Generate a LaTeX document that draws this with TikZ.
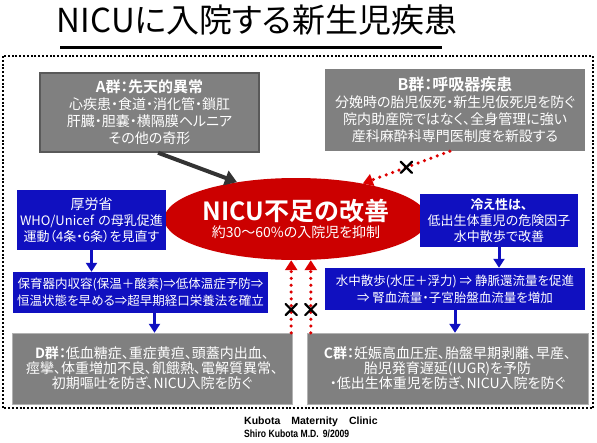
\documentclass[tikz,border=0pt]{standalone}
\usepackage{graphicx}
\usepackage{fontspec}
\setmainfont{Noto Sans CJK JP}[BoldFont={Noto Sans CJK JP Bold},RawFeature=+palt]
\newfontfamily\footfont{Liberation Sans}
\usetikzlibrary{positioning}
\usetikzlibrary{shapes.geometric,shapes.misc}
\usetikzlibrary{arrows.meta}
\definecolor{grpgray}{RGB}{128,128,128}
\definecolor{mhlwblue}{RGB}{16,16,192}
\definecolor{nicured}{RGB}{204,0,0}
\definecolor{dotred}{RGB}{221,0,0}
\definecolor{arrowgray}{RGB}{51,51,51}

\begin{document}
\begin{tikzpicture}[x=1pt, y=-1pt,
    grp/.style = {draw=gray!60, fill=grpgray, text=white, align=center, inner sep=2pt, font=\fontsize{14}{17}\selectfont},
    bluebox/.style = {fill=mhlwblue, text=white, align=center, inner sep=2pt, font=\fontsize{13}{16}\selectfont},
    bluearrow/.style = {mhlwblue, line width=3pt, -{Triangle[width=11pt,length=9pt]}},
    grayarrow/.style = {arrowgray, line width=4pt, -{Triangle[width=15pt,length=12pt]}},
    redarrow/.style = {dotred, line width=3.5pt, line cap=round, dash pattern=on 0pt off 6.8pt, -{Triangle[width=12pt,length=10pt]}},
    xmark/.style = {draw=black, cross out, line width=2.2pt, minimum size=9pt, inner sep=0pt, solid}
  ]
  \useasboundingbox (0,0) rectangle (597,442);

  \node[font=\fontsize{33}{36}\selectfont] (title) at (257,20) {NICUに入院する新生児疾患};
  \draw[line width=3pt] (60,47) -- (442,47);

  % outer frame
  \draw[line width=2pt, dash pattern=on 2pt off 1.8pt] (3,56) rectangle (593,408);

  \node[grp, draw=black!65, line width=1.5pt, minimum width=219pt, minimum height=79pt] (agrp) at (149.5,112.5)
    {{\bfseries\fontsize{15}{17}\selectfont A群：先天的異常}\\心疾患・食道・消化管・鎖肛\\肝臓・胆嚢・横隔膜ヘルニア\\その他の奇形};
  \node[grp, draw=none, minimum width=260pt, minimum height=82pt] (bgrp) at (455,110)
    {{\bfseries\fontsize{16}{17}\selectfont B群：呼吸器疾患}\\分娩時の胎児仮死・新生児仮死児を防ぐ\\院内助産院ではなく、全身管理に強い\\産科麻酔科専門医制度を新設する};

  \node[ellipse, fill=nicured, text=white, align=center, inner sep=0pt, minimum width=221pt, minimum height=82pt] (nicu) at (296,219)
    {{\bfseries\fontsize{25}{28}\selectfont NICU不足の改善}\\[1pt]{\fontsize{14}{17}\selectfont 約30〜60\%の入院児を抑制}};

  \node[bluebox, text width=145pt, minimum height=60pt] (mhlw) at (91.5,220)
    {{\fontsize{14}{18}\selectfont 厚労省}\\WHO/Unicef の母乳促進\\運動（4条・6条）を見直す};
  \node[bluebox, minimum width=158pt, minimum height=53pt] (hiesho) at (499,220.5)
    {{\bfseries 冷え性は、}\\低出生体重児の危険因子\\水中散歩で改善};

  \node[bluebox, minimum width=255pt, minimum height=41pt, font=\fontsize{12.5}{17}\selectfont] (incub) at (140.5,292.5)
    {保育器内収容(保温＋酸素)⇒低体温症予防⇒\\恒温状態を早める⇒超早期経口栄養法を確立};
  \node[bluebox, minimum width=260pt, minimum height=42pt, font=\fontsize{12.5}{17}\selectfont] (walk) at (455,289)
    {水中散歩(水圧＋浮力) ⇒ 静脈還流量を促進\\⇒ 腎血流量・子宮胎盤血流量を増加};

  \node[grp, minimum width=280pt, minimum height=71pt, font=\fontsize{14}{15}\selectfont] (dgrp) at (152,368.5)
    {{\bfseries D群：}低血糖症、重症黄疸、頭蓋内出血、\\痙攣、体重増加不良、飢餓熱、電解質異常、\\初期嘔吐を防ぎ、NICU入院を防ぐ};
  \node[grp, minimum width=281pt, minimum height=71pt, font=\fontsize{14}{15}\selectfont] (cgrp) at (447.5,368.5)
    {{\bfseries C群：}妊娠高血圧症、胎盤早期剥離、早産、\\胎児発育遅延(IUGR)を予防\\・低出生体重児を防ぎ、NICU入院を防ぐ};

  \node[font=\footfont\bfseries\fontsize{10.5}{13}\selectfont, align=left, anchor=west, inner sep=0pt] (footer) at (244,427)
    {Kubota\hspace{11pt}Maternity\hspace{11pt}Clinic\\\scalebox{0.82}[1]{Shiro Kubota M.D.\hspace{5pt}9/2009}};

  \draw[grayarrow] (agrp.-78) -- (nicu.148);
  \draw[redarrow] (bgrp.-97) -- node[pos=0.5, xmark] {} (nicu.28);
  \draw[redarrow] ([xshift=-1pt]dgrp.north east) -- node[pos=0.32, xmark] {} ([xshift=-1pt]dgrp.north east |- nicu.south);
  \draw[redarrow] ([xshift=4pt]cgrp.north west) -- node[pos=0.32, xmark] {} ([xshift=4pt]cgrp.north west |- nicu.south);

  \draw[bluearrow] (mhlw.south) -- (mhlw.south |- incub.north);
  \draw[bluearrow] ([xshift=14pt]incub.south) -- ([xshift=14pt]incub.south |- dgrp.north);
  \draw[bluearrow] (hiesho.south) -- (hiesho.south |- walk.north);
  \draw[bluearrow] (walk.south) -- (walk.south |- cgrp.north);
\end{tikzpicture}
\end{document}
